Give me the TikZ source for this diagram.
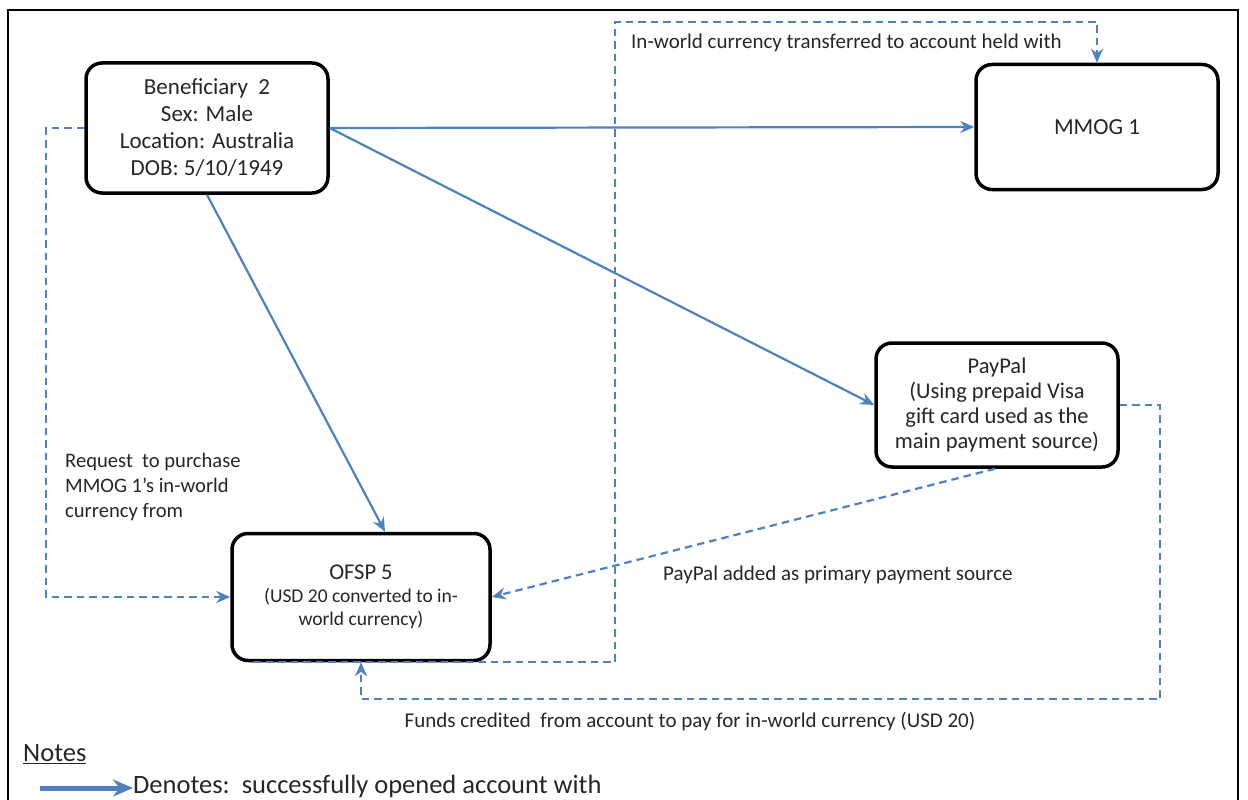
\documentclass[tikz,border=0pt]{standalone}
\usepackage{fontspec}
\setmainfont{Carlito}
\usetikzlibrary{arrows.meta,calc}
\definecolor{officeblue}{HTML}{4F81BD}
\definecolor{ink}{HTML}{262626}

\begin{document}
\begin{tikzpicture}[x=1pt, y=-1pt,
  party/.style={draw=black, line width=3.5pt, rounded corners=16pt, fill=white, align=center, text=ink, font=\fontsize{23}{27}\selectfont, minimum width=242pt, minimum height=128pt, inner sep=0pt},
  opened/.style={-{Stealth[length=14pt, width=12pt]}, officeblue, line width=2.2pt},
  flow/.style={-{Stealth[length=14pt, width=12pt]}, officeblue, line width=2.2pt, dash pattern=on 7.5pt off 5pt},
  note/.style={text=ink, font=\fontsize{21}{25}\selectfont, align=left, inner sep=0pt}
]
  \useasboundingbox (0,0) rectangle (1248,800);
  \draw[line width=2pt] (8,800) -- (8,10) -- (1238,10) -- (1238,800);

  \node[party, minimum height=130pt] (ben) at (207,128) {Beneficiary\ \ 2\\Sex: Male\\Location: Australia\\DOB: 5/10/1949};
  \node[party, minimum height=125pt] (mmog) at (1097,127) {MMOG 1};
  \node[party, minimum height=124pt, font=\fontsize{22.5}{25}\selectfont] (paypal) at (997,405) {PayPal\\(Using prepaid Visa\\gift card used as the\\main payment source)};
  \node[party, minimum width=258pt, minimum height=127pt, font=\fontsize{19.5}{23}\selectfont] (ofsp) at (361,597) {{\fontsize{22.5}{26}\selectfont OFSP 5}\\(USD 20 converted to in-\\world currency)};

  \draw[opened] (ben.east) -- (mmog.west);
  \draw[opened] (ben.east) -- (paypal.west);
  \draw[opened] (ben.south) -- ($(ofsp.north)+(24,0)$);

  \draw[flow] (ben.west) -- ++(-38,0) |- (ofsp.west);
  \draw[flow] ($(ofsp.south west)+(23,0)$) -| (615,22) -| (mmog.north);
  \draw[flow] ($(paypal.south)+(-2,0)$) -- (ofsp.east);
  \draw[flow] (paypal.east) -- ++(40,0) |- ($(ofsp.south)+(0,37)$) -- (ofsp.south);

  \node[note, anchor=west, font=\fontsize{20.6}{25}\selectfont] (reqlbl) at (65,487) {Request\ \ to purchase\\MMOG 1’s in-world\\currency from};
  \node[note, anchor=west] (xferlbl) at (631,43) {In-world currency transferred to account held with};
  \node[note, anchor=west] (srclbl) at (663,575) {PayPal added as primary payment source};
  \node[note] (fundslbl) at (690,722) {Funds credited\ \ from account to pay for in-world currency (USD 20)};

  \node[note, anchor=west, font=\fontsize{26.5}{30}\selectfont] (notes) at (23,754) {\underline{Notes}};
  \coordinate (keystart) at (40,788);
  \node[note, anchor=west, font=\fontsize{26.5}{30}\selectfont] (keytext) at (133,786) {Denotes:\ \ successfully opened account with};
  \draw[-{Stealth[length=20pt, width=17pt]}, officeblue, line width=5pt] (keystart) -- (keytext.west |- keystart);
\end{tikzpicture}
\end{document}
